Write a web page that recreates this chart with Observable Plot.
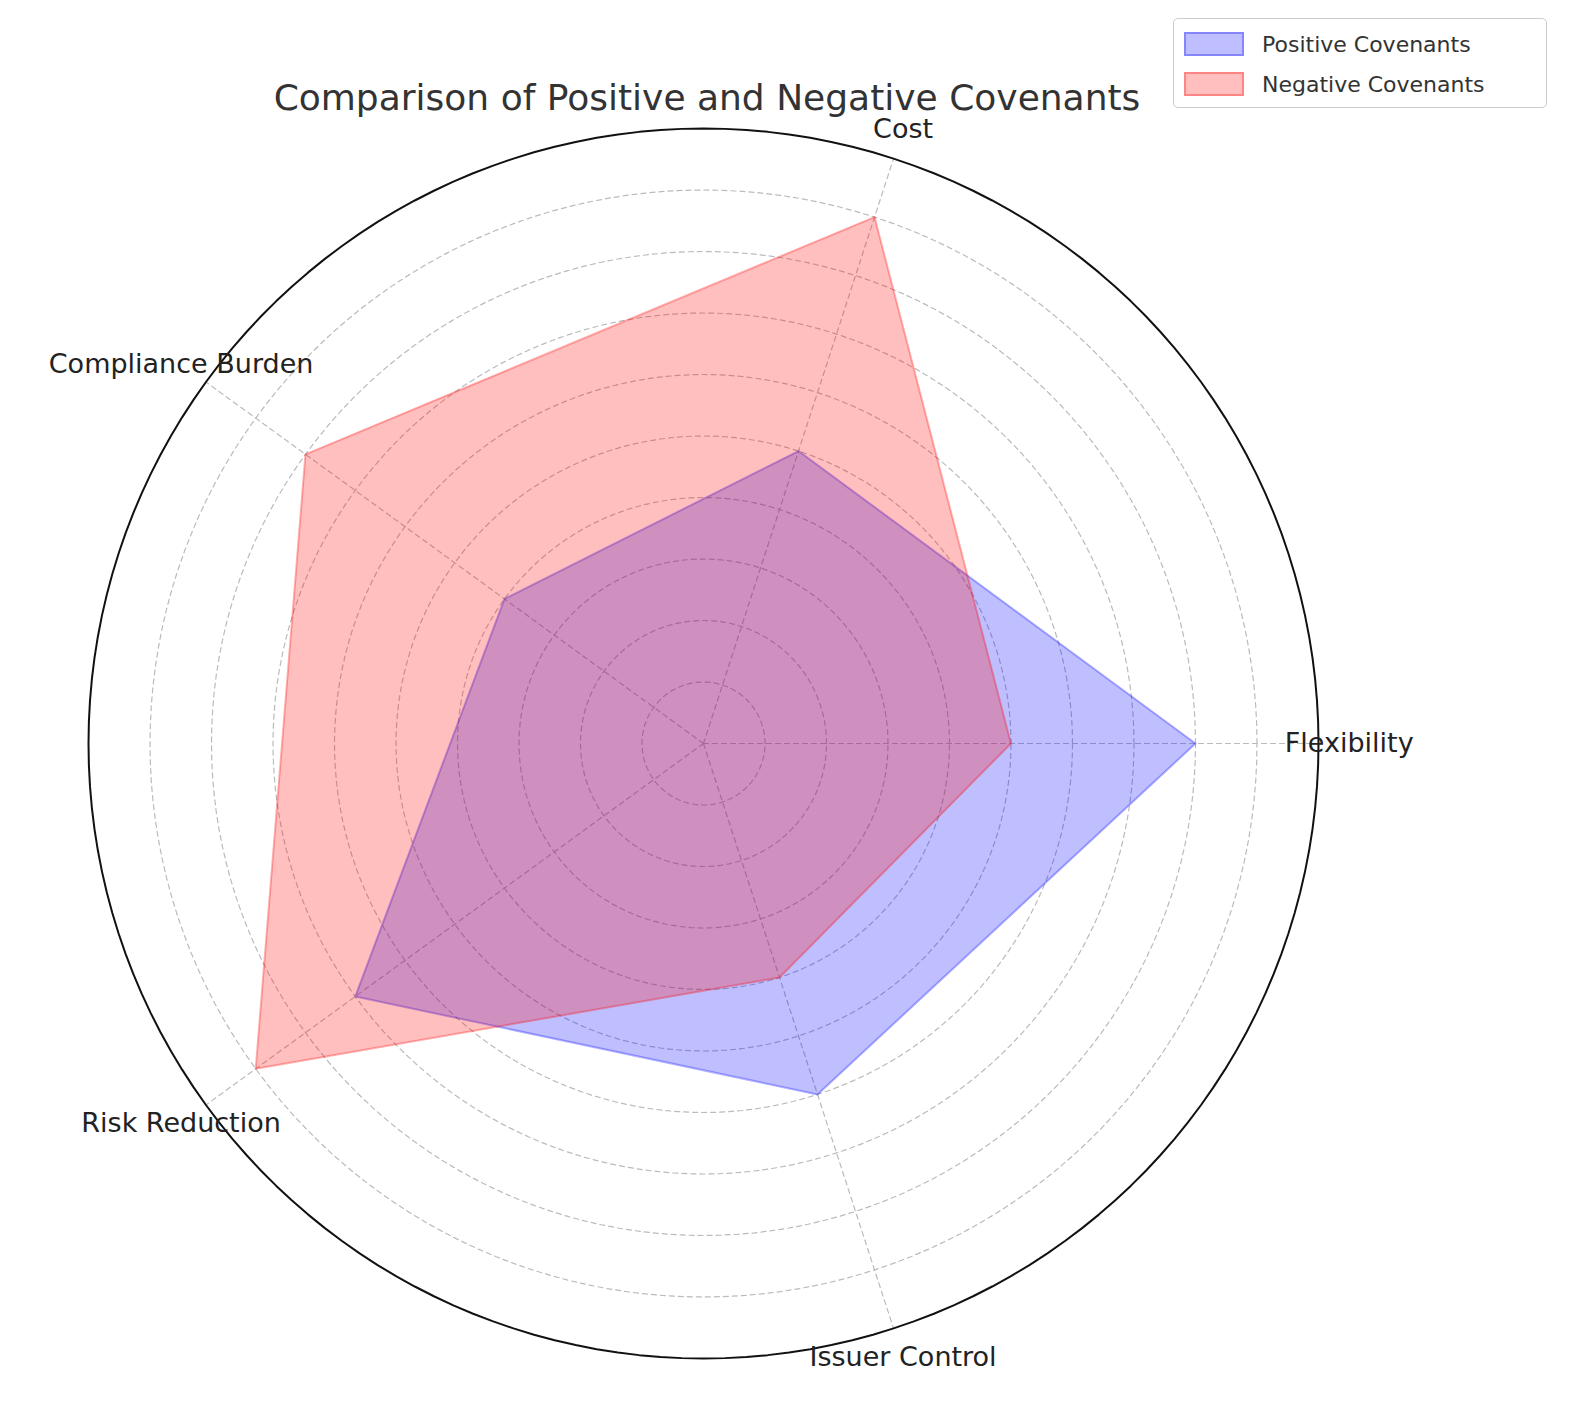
<!DOCTYPE html>
<html><head><meta charset="utf-8">
<script src="https://cdn.jsdelivr.net/npm/d3@7"></script>
<script src="https://cdn.jsdelivr.net/npm/@observablehq/plot@0.6"></script>
<style>
body{margin:0;background:#fff;font-family:"DejaVu Sans",sans-serif}
#wrap{position:relative;width:1589px;height:1410px}
#legend{position:absolute;left:1173px;top:18px;width:372px;height:88px;border:1px solid #ccc;border-radius:5px;background:rgba(255,255,255,0.8);font-size:22px;color:#333}
#legend div{display:flex;align-items:center;height:40px;padding-left:10px}
#legend span{display:inline-block;width:56px;height:20px;margin-right:18px}
</style></head><body>
<div id="wrap"><div id="chart"></div>
<div id="legend">
<div style="margin-top:5px"><span style="background:rgba(0,0,255,0.25);border:2px solid rgba(0,0,255,0.3)"></span>Positive Covenants</div>
<div><span style="background:rgba(255,0,0,0.25);border:2px solid rgba(255,0,0,0.3)"></span>Negative Covenants</div>
</div></div>
<script>
const categories = ["Flexibility","Cost","Compliance Burden","Risk Reduction","Issuer Control"];
const positive = [8,5,4,7,6];
const negative = [5,9,8,9,4];
const rings = [1,2,3,4,5,6,7,8,9];
const rMax = 10;

const ang = i => i * 2 * Math.PI / categories.length;
const pt = (i, r) => ({x: r * Math.cos(ang(i)), y: r * Math.sin(ang(i))});
const poly = (vals, s) => [...vals, vals[0]].map((v, i) => ({...pt(i % vals.length, v), s}));
const circle = r => d3.range(0, 361, 2).map(a => ({x: r*Math.cos(a*Math.PI/180), y: r*Math.sin(a*Math.PI/180), r}));

const gridPts = rings.flatMap(circle);
const spokes = categories.flatMap((c, i) => [{...pt(i,0), c}, {...pt(i,rMax), c}]);
const labels = categories.map((c, i) => ({...pt(i, 10.5), c}));
const data = [...poly(positive, "Positive Covenants"), ...poly(negative, "Negative Covenants")];

const u = 61.5;
const chart = Plot.plot({
  width: 1589, height: 1410, margin: 0,
  x: {domain: [-703/u, (1589-703)/u], axis: null},
  y: {domain: [-(1410-743)/u, 743/u], axis: null},
  style: {fontFamily: "DejaVu Sans", background: "white"},
  color: {domain: ["Positive Covenants","Negative Covenants"], range: ["blue","red"]},
  marks: [
    Plot.line(gridPts, {x: "x", y: "y", z: "r", stroke: "#bbb", strokeWidth: 1.2, strokeDasharray: "5,4"}),
    Plot.line(spokes, {x: "x", y: "y", z: "c", stroke: "#bbb", strokeWidth: 1.2, strokeDasharray: "5,4"}),
    Plot.line(data, {x: "x", y: "y", z: "s", fill: "s", fillOpacity: 0.25, stroke: "s", strokeOpacity: 0.3, strokeWidth: 2}),
    Plot.line(circle(rMax), {x: "x", y: "y", stroke: "#111", strokeWidth: 2}),
    Plot.text(labels, {x: "x", y: "y", text: "c", fontSize: 27, fill: "#222"}),
    Plot.text(["Comparison of Positive and Negative Covenants"], {frameAnchor: "top", dx: -88, dy: 84, fontSize: 36, fill: "#333"})
  ]
});
d3.select('#chart').append(() => chart);
</script></body></html>
